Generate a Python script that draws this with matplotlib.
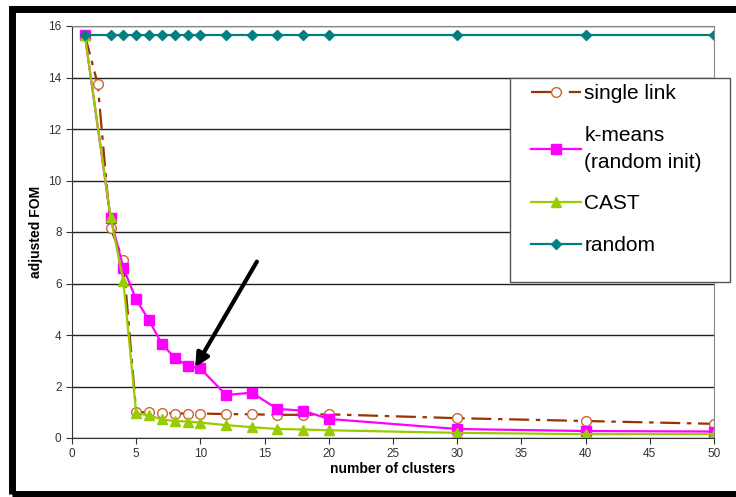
import matplotlib
matplotlib.use("Agg")
import matplotlib.pyplot as plt
from matplotlib.patches import Rectangle

plt.rcParams["font.family"] = ["Liberation Sans", "DejaVu Sans"]

# data
xs = [1, 3, 4, 5, 6, 7, 8, 9, 10, 12, 14, 16, 18, 20, 30, 40, 50]
xs_single = [1, 2, 3, 4, 5, 6, 7, 8, 9, 10, 12, 14, 16, 18, 20, 30, 40, 50]
single_link = [15.65, 13.75, 8.15, 6.9, 1.0, 1.0, 0.98, 0.95, 0.95, 0.95,
               0.93, 0.92, 0.9, 0.9, 0.92, 0.77, 0.66, 0.55]
kmeans = [15.65, 8.55, 6.6, 5.38, 4.57, 3.65, 3.12, 2.8, 2.7, 1.67, 1.76,
          1.13, 1.06, 0.74, 0.35, 0.27, 0.25]
cast = [15.65, 8.6, 6.1, 0.96, 0.88, 0.72, 0.66, 0.64, 0.6, 0.5, 0.42,
        0.35, 0.33, 0.3, 0.2, 0.15, 0.15]
random_fom = [15.65] * len(xs)

W, H = 736, 497
fig = plt.figure(figsize=(W / 100, H / 100), dpi=100)
ax = fig.add_axes([72 / W, 1 - 438 / H, (714 - 72) / W, (438 - 26) / H])

ax.plot(xs_single, single_link, color="#993300", lw=1.6, dashes=(9, 3, 2, 3),
        marker="o", ms=7, mfc="white", mec="#CC6633", mew=1.0, label="single link")
ax.plot(xs, kmeans, color="#FF00FF", lw=1.6, marker="s", ms=7.5,
        label="k-means\n(random init)")
ax.plot(xs, cast, color="#99CC00", lw=1.6, marker="^", ms=7.5, label="CAST")
ax.plot(xs, random_fom, color="#008080", lw=1.6, marker="D", ms=5.5,
        label="random")

ax.annotate("", xy=(9.6, 2.75), xytext=(14.4, 6.85),
            arrowprops=dict(arrowstyle="-|>", color="black", lw=3,
                            mutation_scale=20, shrinkA=0, shrinkB=0))

ax.set_xlim(0, 50)
ax.set_ylim(0, 16)
ax.set_xticks(range(0, 51, 5))
ax.set_yticks(range(0, 17, 2))
ax.yaxis.grid(True, color="#222222", lw=1)
ax.set_axisbelow(True)
ax.tick_params(labelsize=8.5, labelcolor="#333333", length=4, color="#333333")
for s in ["left", "bottom"]:
    ax.spines[s].set_color("#333333")
for s in ["top", "right"]:
    ax.spines[s].set_color("#888888")
ax.set_xlabel("number of clusters", fontsize=10, fontweight="bold", labelpad=1)
ax.set_ylabel("adjusted FOM", fontsize=10, fontweight="bold", labelpad=4)

# legend box (Excel-style, larger than its entries)
fig.patches.append(Rectangle((510 / W, 1 - 282 / H), 220 / W, 204 / H,
                             transform=fig.transFigure, facecolor="white",
                             edgecolor="#555555", lw=1.0, zorder=2))
handles, labels = ax.get_legend_handles_labels()
leg = fig.legend(handles, labels, loc="upper left",
                 bbox_to_anchor=(527 / W, 1 - 80 / H), fontsize=15,
                 frameon=False, handlelength=2.4, handletextpad=0.15,
                 labelspacing=1.1, borderaxespad=0, borderpad=0.2)
for t in leg.get_texts():
    t.set_linespacing(1.5)

# thick black picture border (open on the right)
fig.patches.append(Rectangle((11.5 / W, 3.5 / H), 1.0, 1 - 12 / H,
                             transform=fig.transFigure, fill=False,
                             edgecolor="black", lw=5, clip_on=False))

fig.savefig("out.png", dpi=100)
